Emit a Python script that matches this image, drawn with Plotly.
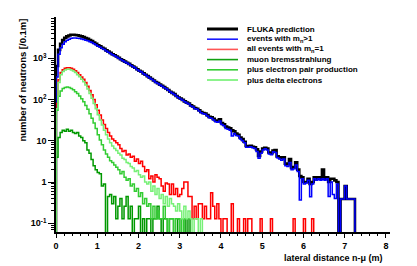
import plotly.graph_objects as go

BIN_WIDTH = 0.05  # m, histogram bin width

# ---- data: counts per 0.05 m bin, starting at 0 m ----
fluka = [
    650, 1600, 2250, 2750, 3150, 3400, 3550, 3700, 3700, 3650,
    3600, 3500, 3400, 3250, 3100, 2950, 2750, 2600, 2400, 2250,
    2050, 1950, 1800, 1700, 1550, 1450, 1350, 1250, 1180, 1100,
    1020, 950, 890, 830, 780, 730, 680, 630, 590, 540,
    500, 470, 430, 400, 370, 340, 315, 290, 265, 250,
    230, 215, 200, 185, 170, 155, 145, 135, 122, 112,
    105, 98, 90, 84, 80, 72, 68, 62, 60, 55,
    50, 47, 46, 42, 38, 37, 34, 31, 30, 33,
    27, 25, 22, 21, 20, 18, 17, 15, 14, 12,
    11, 9.5, 7.5, 7.4, 7.6, 7.2, 7.0, 6.2, 4.3, 5.5,
    6.5, 6.8, 6.5, 5.2, 5.0, 5.8, 6.0, 4.2, 4.0, 3.8,
    4.0, 2.8, 2.7, 3.6, 2.2, 2.3, 3.0, 2.0, 1.4, 1.3,
    1.0, 1.0, 1.2, 0.9, 1.0, 1.3, 1.2, 1.3, 1.2, 2.0,
    1.2, 1.3, 1.0, 1.2, 1.2, 1.1, 1.0, 0, 0.39, 0.39,
    0.8, 0.39, 0.39, 0.39, 0.39,
]

multi = [
    350, 1250, 1800, 2200, 2500, 2750, 2900, 3050, 3100, 3100,
    3050, 3000, 2950, 2850, 2750, 2650, 2500, 2400, 2250, 2100,
    1950, 1850, 1720, 1630, 1500, 1400, 1310, 1220, 1150, 1070,
    1000, 930, 870, 815, 765, 715, 665, 620, 580, 530,
    490, 462, 422, 393, 363, 334, 309, 285, 260, 245,
    226, 211, 196, 182, 167, 152, 142, 132, 120, 110,
    103, 96, 88, 82, 78, 70, 66, 60, 58, 53,
    48, 45, 44, 40, 36, 35, 32, 29, 28, 30,
    25, 23, 20, 19, 18, 13, 15, 13.5, 13, 11,
    10, 9, 7, 7, 7.2, 6.8, 6.5, 5.5, 3.8, 5,
    6, 6.4, 6, 4.8, 4.6, 5.4, 5.2, 3.9, 3.6, 3.4,
    3.6, 2.5, 2.4, 3.0, 2.0, 2.1, 2.6, 1.8, 0.37, 1.2,
    0.9, 0.95, 1.1, 0.44, 0.9, 1.2, 1.1, 1.2, 1.1, 1.2,
    1.1, 1.2, 0.45, 1.0, 0.5, 0.4, 0.9, 0, 0.39, 0.39,
    0.8, 0.39, 0.39, 0.39, 0.39,
]

single = [
    80, 300, 450, 530, 570, 590, 590, 570, 540, 500,
    450, 400, 350, 310, 260, 210, 165, 130, 100, 75,
    55, 42, 32, 25, 20, 16, 13, 11, 10, 9,
    8, 6.5, 5.5, 5.8, 4.5, 4.8, 4.0, 4.2, 3.2, 3.6,
    2.8, 3.2, 2.4, 1.8, 2.0, 1.2, 1.4, 1.0, 1.5, 1.3,
    1.2, 0.8, 0.6, 0.95, 0.9, 0.5, 0.9, 0.5, 0.7, 0.45,
    0.5, 0.7, 1.0, 1.0, 0.45, 0.45, 0.13, 0.26, 0.13, 0.3,
    0.3, 0.13, 0.26, 0.13, 0.13, 0.55, 0.26, 0.13, 0.3, 0.13,
    0, 0.13, 0.13, 0, 0, 0.3, 0, 0, 0.13, 0,
    0, 0.13, 0, 0.13, 0.13, 0, 0, 0, 0, 0.13,
    0, 0, 0, 0, 0.13, 0, 0, 0, 0, 0,
    0, 0, 0, 0, 0, 0.13, 0, 0, 0, 0,
    0.13, 0, 0, 0, 0.13,
]

brems = [
    4, 12, 16, 18, 17, 19, 17, 18, 16, 15,
    16, 13, 12, 10, 9, 6, 5, 3.5, 2.5, 2.0,
    1.7, 1.6, 0.8, 0.9, 0, 0.45, 0.5, 0.3, 0.45, 0.13,
    0.26, 0.4, 0.13, 0.26, 0.45, 0.13, 0.26, 0, 0.13, 0.13,
    0.26, 0, 0.13, 0, 0.13, 0.13, 0, 0.13, 0.13, 0.26,
    0.13, 0, 0.13, 0.13, 0, 0.13, 0.13, 0, 0, 0.13,
    0, 0, 0.13, 0, 0.13,
]

pair = [
    55, 120, 160, 185, 195, 200, 195, 185, 172, 155,
    140, 122, 105, 88, 72, 58, 45, 35, 27, 20,
    14, 10.5, 8, 6, 4.8, 4.0, 3.3, 3.0, 2.6, 2.3,
    2.0, 1.6, 1.8, 1.3, 1.1, 1.2, 0.8, 0.9, 0.6, 0.7,
    0.45, 0.55, 0.3, 0.4, 0.26, 0.3, 0.13, 0.26, 0.13, 0.2,
    0.13, 0.13, 0.26, 0.13, 0, 0.13, 0.13, 0, 0.13, 0.13,
    0, 0.13,
]

delta = [
    60, 260, 400, 480, 520, 540, 540, 520, 490, 450,
    400, 355, 310, 270, 225, 180, 140, 108, 80, 60,
    43, 32, 24, 18, 14, 11, 9, 7.5, 6.5, 5.8,
    5, 4.5, 3.8, 3.5, 3.0, 2.8, 2.4, 2.2, 1.8, 1.9,
    1.5, 1.3, 1.4, 1.0, 0.9, 1.0, 0.6, 0.8, 0.5, 0.7,
    0.4, 0.5, 0.3, 0.45, 0.26, 0.4, 0.3, 0.26, 0.2, 0.3,
    0.2, 0.13, 0.26, 0.13, 0.2, 0.13, 0, 0.13, 0.13, 0,
    0.13,
]

legend_names = [
    "FLUKA prediction",
    "events with m<sub>n</sub>>1",
    "all events with m<sub>n</sub>=1",
    "muon bremsstrahlung",
    "plus electron pair production",
    "plus delta electrons",
]

x_tickvals = [0, 1, 2, 3, 4, 5, 6, 7, 8]
y_tickvals = [0.1, 1, 10, 100, 1000]
y_ticktext = ["10<sup>-1</sup>", "1", "10", "10<sup>2</sup>", "10<sup>3</sup>"]

# ---- styling ----
series = [fluka, multi, single, brems, pair, delta]
colors = ["#000000", "#0000ff", "#ff0000", "#009900", "#33cc33", "#77f077"]
legend_colors = ["#000000", "#1a1aff", "#ff5555", "#11a011", "#33cc33", "#70f070"]
widths = [2.6, 1.5, 1.5, 1.5, 1.5, 1.5]
FLOOR = 1e-4  # drawn below the visible range (empty bins)
FONT = "Liberation Sans, Arial, sans-serif"

OFF = 8            # page body margin of the html page
W, H = 417 - OFF, 266 - OFF
L, T = 56 - OFF, 17 - OFF   # plot-area origin inside the figure
PW, PH = 334, 215


def step_xy(vals):
    n = len(vals)
    xs = [0.0] + [round(i * BIN_WIDTH, 4) for i in range(n + 1)]
    ys = [FLOOR] + [v if v > 0 else FLOOR for v in vals] + [FLOOR]
    return xs, ys


def px_to_paper(px, py):
    # px, py in page pixels (as in the reference picture)
    return (px - OFF - L) / PW, (T + PH - (py - OFF)) / PH


fig = go.Figure()
for vals, col, w in zip(series, colors, widths):
    xs, ys = step_xy(vals)
    fig.add_trace(go.Scatter(
        x=xs, y=ys, mode="lines", line=dict(color=col, width=w, shape="hv"),
        showlegend=False, hoverinfo="skip",
    ))

# manual legend (compact rows like the original)
for i, (name, col) in enumerate(zip(legend_names, legend_colors)):
    py = 29 + 10.2 * i
    x0, y0 = px_to_paper(207, py)
    x1, _ = px_to_paper(238, py)
    fig.add_shape(type="line", xref="paper", yref="paper", x0=x0, x1=x1, y0=y0, y1=y0,
                  line=dict(color=col, width=3 if i == 0 else 1.6))
    tx, _ = px_to_paper(245, py)
    fig.add_annotation(xref="paper", yref="paper", x=tx, y=y0, text=name, showarrow=False,
                       xanchor="left", yanchor="middle",
                       font=dict(family=FONT, size=8, color="black", weight="bold"))

ax, ay = px_to_paper(22, 17)
fig.add_annotation(xref="paper", yref="paper", x=ax, y=ay, text="number of neutrons [/0.1m]",
                   textangle=-90, showarrow=False, xanchor="center", yanchor="top",
                   font=dict(family=FONT, size=9.5, color="black", weight="bold"))
bx, by = px_to_paper(385, 258)
fig.add_annotation(xref="paper", yref="paper", x=bx, y=by, text="lateral distance n-μ (m)",
                   showarrow=False, xanchor="right", yanchor="middle",
                   font=dict(family=FONT, size=9, color="black", weight="bold"))

minor_y = [m * 10.0 ** e for e in range(-2, 5) for m in range(2, 10)]

fig.update_layout(
    width=W, height=H,
    margin=dict(l=L, r=W - L - PW, t=T, b=H - T - PH),
    paper_bgcolor="white", plot_bgcolor="white",
    showlegend=False,
    xaxis=dict(
        range=[0, 8.1], tickmode="array", tickvals=x_tickvals,
        ticks="outside", ticklen=4, tickwidth=1, tickcolor="black",
        minor=dict(tickmode="linear", tick0=0, dtick=0.2, ticks="outside", ticklen=2,
                   tickcolor="black", showgrid=False),
        showgrid=False, zeroline=False, showline=True, linecolor="black", linewidth=1.5,
        tickfont=dict(family=FONT, size=9, color="black", weight="bold"),
    ),
    yaxis=dict(
        type="log", range=[-1.21, 4.0], tickmode="array",
        tickvals=y_tickvals, ticktext=y_ticktext,
        ticks="outside", ticklen=6, tickwidth=1, tickcolor="black",
        minor=dict(tickmode="array", tickvals=minor_y, ticks="outside", ticklen=3,
                   tickcolor="black", showgrid=False),
        showgrid=False, zeroline=False, showline=True, linecolor="black", linewidth=1.5,
        tickfont=dict(family=FONT, size=9, color="black", weight="bold"),
    ),
)

fig.write_html("out.html")
